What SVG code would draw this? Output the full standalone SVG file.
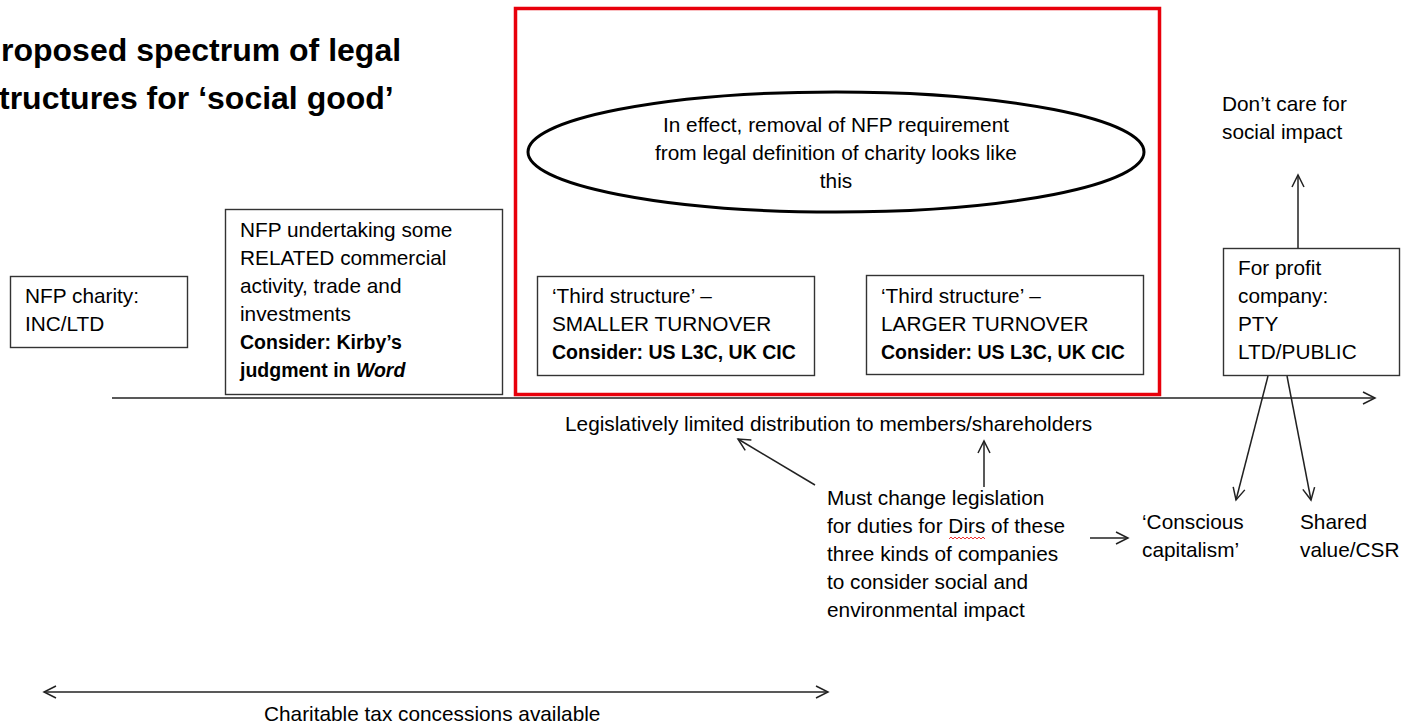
<svg xmlns="http://www.w3.org/2000/svg" width="1401" height="725" viewBox="0 0 1401 725">
<style>
text{font-family:"Liberation Sans",Arial,sans-serif;font-size:20.8px;fill:#000}
.t{font-size:32px;font-weight:bold}
.b{font-weight:bold;font-size:19.5px}
.box{fill:#fff;stroke:#333;stroke-width:1.4}
.ln{fill:none;stroke:#222;stroke-width:1.5}
</style>
<defs>
<marker id="ah" markerUnits="userSpaceOnUse" markerWidth="16" markerHeight="16" viewBox="0 0 16 16" refX="14" refY="8" orient="auto-start-reverse">
<path d="M2,2 L14,8 L2,14" fill="none" stroke="#222" stroke-width="1.5"/>
</marker>
</defs>
<rect width="1401" height="725" fill="#fff"/>
<g id="title">
<text class="t" x="1" y="61">roposed spectrum of legal</text>
<text class="t" x="-1" y="109">tructures for ‘social good’</text>
</g>
<g id="frame">
<rect x="515.5" y="8.5" width="644" height="386" fill="none" stroke="#e8000b" stroke-width="3.5"/>
</g>
<g id="ellipse">
<ellipse cx="836" cy="152" rx="308" ry="60" fill="#fff" stroke="#000" stroke-width="3"/>
<text x="836" y="132" text-anchor="middle">In effect, removal of NFP requirement</text>
<text x="836" y="160" text-anchor="middle">from legal definition of charity looks like</text>
<text x="836" y="188" text-anchor="middle">this</text>
</g>
<g id="nfp-charity">
<rect class="box" x="10.5" y="276.5" width="177" height="71"/>
<text x="25" y="303">NFP charity:</text>
<text x="25" y="331">INC/LTD</text>
</g>
<g id="nfp-related">
<rect class="box" x="225.5" y="209.5" width="277" height="185"/>
<text x="240" y="237">NFP undertaking some</text>
<text x="240" y="265">RELATED  commercial</text>
<text x="240" y="293">activity, trade and</text>
<text x="240" y="321">investments</text>
<text x="240" y="349" class="b">Consider: Kirby’s</text>
<text x="240" y="377" class="b">judgment in <tspan font-style="italic">Word</tspan></text>
</g>
<g id="third-smaller">
<rect class="box" x="537.5" y="276.5" width="277" height="99"/>
<text x="552" y="303">‘Third structure’ –</text>
<text x="552" y="331">SMALLER TURNOVER</text>
<text x="552" y="359" class="b">Consider: US L3C, UK CIC</text>
</g>
<g id="third-larger">
<rect class="box" x="866.5" y="275.5" width="277" height="99"/>
<text x="881" y="303">‘Third structure’ –</text>
<text x="881" y="331">LARGER TURNOVER</text>
<text x="881" y="359" class="b">Consider: US L3C, UK CIC</text>
</g>
<g id="for-profit">
<rect class="box" x="1223.5" y="248.5" width="176" height="127"/>
<text x="1238" y="275">For profit</text>
<text x="1238" y="303">company:</text>
<text x="1238" y="331">PTY</text>
<text x="1238" y="359">LTD/PUBLIC</text>
</g>
<g id="dont-care">
<text x="1222" y="111">Don’t care for</text>
<text x="1222" y="139">social impact</text>
</g>
<g id="legislatively">
<text x="565" y="431">Legislatively limited distribution to members/shareholders</text>
</g>
<g id="must-change">
<text x="827" y="505">Must change legislation</text>
<text x="827" y="533">for duties for Dirs of these</text>
<text x="827" y="561">three kinds of companies</text>
<text x="827" y="589">to consider social and</text>
<text x="827" y="617">environmental impact</text>
<path d="M949,539 l2,-2 l2,2 l2,-2 l2,2 l2,-2 l2,2 l2,-2 l2,2 l2,-2 l2,2 l2,-2 l2,2 l2,-2 l2,2 l2,-2 l2,2 l2,-2 l2,2" fill="none" stroke="#e33" stroke-width="1"/>
</g>
<g id="conscious">
<text x="1142" y="529">‘Conscious</text>
<text x="1142" y="557">capitalism’</text>
</g>
<g id="shared">
<text x="1300" y="529">Shared</text>
<text x="1300" y="557">value/CSR</text>
</g>
<g id="charitable">
<text x="264" y="721">Charitable tax concessions available</text>
</g>
<g id="connectors">
<line class="ln" x1="112" y1="398" x2="1375" y2="398" marker-end="url(#ah)"/>
<line class="ln" x1="1298" y1="248" x2="1298" y2="175" marker-end="url(#ah)"/>
<line class="ln" x1="815" y1="485" x2="738" y2="439" marker-end="url(#ah)"/>
<line class="ln" x1="984" y1="487" x2="984" y2="441" marker-end="url(#ah)"/>
<line class="ln" x1="1090" y1="538" x2="1128" y2="538" marker-end="url(#ah)"/>
<line class="ln" x1="1268" y1="376" x2="1236" y2="500" marker-end="url(#ah)"/>
<line class="ln" x1="1287" y1="376" x2="1311" y2="500" marker-end="url(#ah)"/>
<line class="ln" x1="44" y1="692" x2="828" y2="692" marker-start="url(#ah)" marker-end="url(#ah)"/>
</g>
</svg>
